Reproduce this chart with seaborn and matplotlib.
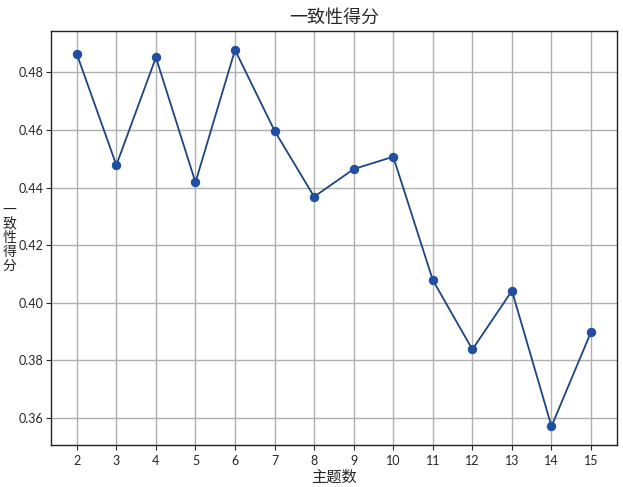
import matplotlib
matplotlib.use('Agg')
import matplotlib.pyplot as plt
import seaborn as sns
import pandas as pd

topic_nums = [2, 3, 4, 5, 6, 7, 8, 9, 10, 11, 12, 13, 14, 15]
coherence = [0.4864, 0.4478, 0.4852, 0.4418, 0.4878, 0.4597, 0.4368, 0.4464,
             0.4507, 0.4078, 0.3837, 0.4041, 0.3570, 0.3898]
y_ticks = [0.36, 0.38, 0.40, 0.42, 0.44, 0.46, 0.48]

df = pd.DataFrame({'topics': topic_nums, 'score': coherence})

sns.set_style('ticks')
plt.rcParams['font.family'] = ['Noto Sans CJK SC', 'DejaVu Sans']
tick_font = ['Lato', 'DejaVu Sans']

fig = plt.figure(figsize=(6.23, 4.87), dpi=100)
ax = fig.add_axes([0.082, 0.086, 0.908, 0.85])

sns.lineplot(data=df, x='topics', y='score', ax=ax, color='#1d4580',
             linewidth=1.3, marker='o', markersize=6,
             markerfacecolor='#1f4ea3', markeredgecolor='#1f4ea3')

ax.set_xticks(topic_nums)
ax.set_xticklabels([str(t) for t in topic_nums], fontfamily=tick_font, fontsize=9)
ax.set_yticks(y_ticks)
ax.set_yticklabels([f'{v:.2f}' for v in y_ticks], fontfamily=tick_font, fontsize=9)
ax.tick_params(axis='y', pad=2)
ax.grid(True, color='#b0b0b0', linewidth=1)
ax.set_title('一致性得分', fontsize=13)
ax.set_xlabel('主题数', fontsize=11, labelpad=1)
ax.set_ylabel('\n'.join('一致性得分'), fontsize=10, rotation=0,
              va='center', ha='center', linespacing=1.0)
ax.yaxis.set_label_coords(-0.074, 0.5)
for s in ax.spines.values():
    s.set_color('#222222')
    s.set_linewidth(1)

fig.savefig('out.png', dpi=100)
